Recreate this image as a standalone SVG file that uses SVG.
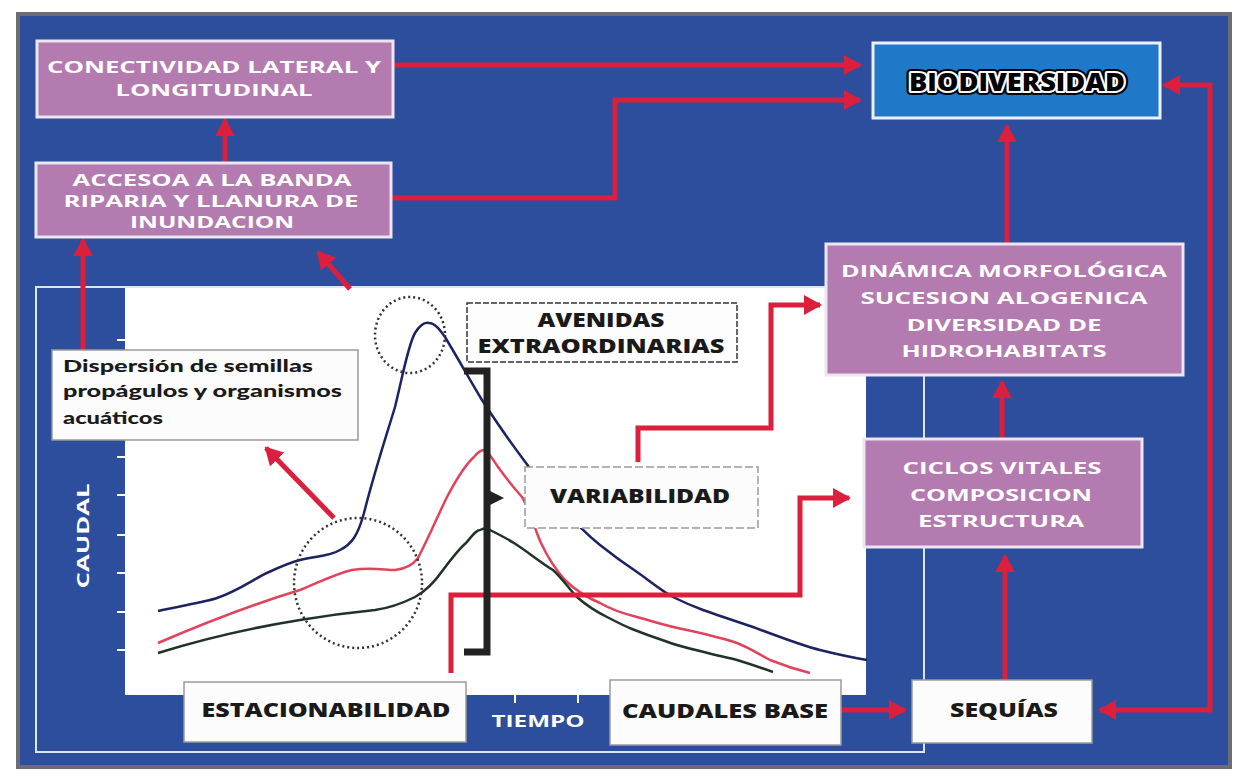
<svg xmlns="http://www.w3.org/2000/svg" width="1240" height="774" viewBox="0 0 1240 774">
<defs>
<marker id="ah" markerUnits="userSpaceOnUse" markerWidth="18" markerHeight="20" refX="16" refY="10" orient="auto-start-reverse">
<path d="M0,0 L18,10 L0,20 z" fill="#dc1f3c"/>
</marker>
</defs>
<style>
.pink{fill:#b47bb0;stroke:#ece6f0;stroke-width:3}
.wbox{fill:#fdfcfc;stroke:#9a9a9a;stroke-width:1.5}
.dbox{fill:#fdfdfd;stroke:#333;stroke-width:1.5;stroke-dasharray:6 2}
.wt{font-family:"Open Sans","DejaVu Sans",sans-serif;font-weight:bold;font-size:16px;fill:#ffffff;text-anchor:middle}
.bt{font-family:"Open Sans","DejaVu Sans",sans-serif;font-weight:800;font-size:20px;fill:#1a1a1a;text-anchor:middle}
.lt{font-family:"Lato","Open Sans",sans-serif;font-weight:900;font-size:17px;fill:#1a1a1a}
.red{fill:none;stroke:#dc1f3c;stroke-width:5}
.curve{fill:none;stroke-width:2.5;stroke-linejoin:round}
.dot{fill:none;stroke:#333;stroke-width:2.5;stroke-dasharray:2 3}
</style>
<rect x="0" y="0" width="1240" height="774" fill="#ffffff"/>
<rect x="18" y="14" width="1212" height="753" fill="#2c4e9c" stroke="#6c6c72" stroke-width="4"/>
<rect x="36" y="287" width="888" height="465" fill="none" stroke="#dde4f4" stroke-width="2"/>
<g id="chart">
<rect x="125" y="288" width="741" height="407" fill="#ffffff"/>
<g stroke="#ffffff" stroke-width="2">
<line x1="117" y1="340" x2="125" y2="340"/>
<line x1="117" y1="457" x2="125" y2="457"/>
<line x1="117" y1="495" x2="125" y2="495"/>
<line x1="117" y1="535" x2="125" y2="535"/>
<line x1="117" y1="573" x2="125" y2="573"/>
<line x1="117" y1="612" x2="125" y2="612"/>
<line x1="117" y1="650" x2="125" y2="650"/>
<line x1="515" y1="695" x2="515" y2="703"/>
<line x1="578" y1="695" x2="578" y2="703"/>
</g>
<text transform="translate(89,536) rotate(-90)" class="wt" font-size="18" textLength="105" lengthAdjust="spacingAndGlyphs">CAUDAL</text>
<text x="538" y="727" class="wt" font-size="17" textLength="93" lengthAdjust="spacingAndGlyphs">TIEMPO</text>
<path class="curve" stroke="#1c2360" d="M158,611 C185,605 205,602 217,598 C240,590 255,578 269,572 C282,566 292,562 300,560 C318,556 330,556 340,550 C352,544 358,535 364,513 C375,470 385,440 395,407 C403,375 408,345 415,333 C420,325 425,322 429,323 C435,323 440,330 445,337 C460,362 470,380 482,400 C495,420 510,442 526,463 C545,490 575,525 600,545 C615,557 625,564 637,572 C650,581 660,590 673,597 C685,603 695,607 703,610 C720,616 735,621 753,627 C775,635 800,645 820,650 C840,655 855,658 867,660"/>
<path class="curve" stroke="#e2435c" d="M158,643 C200,625 250,605 300,590 C320,582 335,574 352,570 C370,567 385,570 395,570 C405,569 412,566 418,558 C430,535 438,515 447,497 C457,478 465,465 474,457 C478,452 481,450 484,450 C489,452 493,460 498,467 C506,478 514,488 522,497 C530,510 535,530 541,543 C548,558 556,570 565,580 C577,592 588,598 600,603 C612,610 625,614 637,617 C655,622 670,627 687,630 C705,634 722,638 737,643 C750,648 760,655 770,660 C785,666 798,670 810,673"/>
<path class="curve" stroke="#1f3327" d="M158,653 C200,640 250,628 300,620 C330,615 355,612 375,610 C390,608 405,602 415,597 C428,590 436,580 443,570 C452,558 460,548 466,543 C472,536 476,530 480,530 C484,528 488,528 490,530 C498,534 506,538 514,543 C528,552 540,562 553,570 C562,578 570,590 577,597 C587,606 597,612 607,617 C615,621 622,625 632,629 C642,633 653,637 665,641 C675,645 687,648 700,651 C715,655 725,657 737,660 C750,664 762,668 773,672"/>
<ellipse class="dot" cx="410" cy="335" rx="35" ry="38"/>
<ellipse class="dot" cx="358" cy="583" rx="64" ry="65"/>
</g>
<g id="connectors">
<path class="red" d="M393,65 H860" marker-end="url(#ah)"/>
<path class="red" d="M391,198 H615 V100 H860" marker-end="url(#ah)"/>
<path class="red" d="M225,162 V120" marker-end="url(#ah)"/>
<path class="red" d="M83,350 V240" marker-end="url(#ah)"/>
<path class="red" d="M350,289 L318,252" marker-end="url(#ah)"/>
<path class="red" d="M334,518 L266,448" marker-end="url(#ah)"/>
<path class="red" d="M638,462 V428 H771 V305 H820" marker-end="url(#ah)"/>
<path class="red" d="M451,673 V595 H800 V498 H849" marker-end="url(#ah)"/>
<path class="red" d="M841,710 H905" marker-end="url(#ah)"/>
<path class="red" d="M1005,680 V556" marker-end="url(#ah)"/>
<path class="red" d="M1002,438 V382" marker-end="url(#ah)"/>
<path class="red" d="M1007,243 V126" marker-end="url(#ah)"/>
<path class="red" d="M1100,710 H1210 V85 H1164" marker-start="url(#ah)" marker-end="url(#ah)"/>
</g>
<g id="bracket">
<path d="M464,371 H487 V652 H464" fill="none" stroke="#222" stroke-width="7"/>
<path d="M490,491 L504,498 L490,505 z" fill="#222"/>
</g>
<g id="conectividad">
<rect class="pink" x="37" y="41" width="356" height="76"/>
<text class="wt" x="214" y="73" textLength="334" lengthAdjust="spacingAndGlyphs">CONECTIVIDAD LATERAL Y</text>
<text class="wt" x="214" y="96" textLength="197" lengthAdjust="spacingAndGlyphs">LONGITUDINAL</text>
</g>
<g id="accesoa">
<rect class="pink" x="36" y="163" width="355" height="74"/>
<text class="wt" x="212" y="186" textLength="279" lengthAdjust="spacingAndGlyphs">ACCESOA A LA BANDA</text>
<text class="wt" x="211" y="207" textLength="295" lengthAdjust="spacingAndGlyphs">RIPARIA Y LLANURA DE</text>
<text class="wt" x="212" y="228" textLength="164" lengthAdjust="spacingAndGlyphs">INUNDACION</text>
</g>
<g id="biodiversidad">
<rect x="873" y="43" width="287" height="75" fill="#1f78c8" stroke="#eef0f8" stroke-width="3"/>
<text x="1017" y="91" text-anchor="middle" font-family="Open Sans, DejaVu Sans, sans-serif" font-weight="800" font-size="24" textLength="216" lengthAdjust="spacingAndGlyphs" fill="#000" stroke="#000" stroke-width="8" stroke-linejoin="round">BIODIVERSIDAD</text>
<text x="1017" y="91" text-anchor="middle" font-family="Open Sans, DejaVu Sans, sans-serif" font-weight="800" font-size="24" textLength="216" lengthAdjust="spacingAndGlyphs" fill="#000" stroke="#fff" stroke-width="4" stroke-linejoin="round" paint-order="stroke">BIODIVERSIDAD</text>
</g>
<g id="dinamica">
<rect class="pink" x="826" y="244" width="357" height="131"/>
<text class="wt" font-size="18" x="1004" y="277" textLength="326" lengthAdjust="spacingAndGlyphs">DINÁMICA MORFOLÓGICA</text>
<text class="wt" font-size="18" x="1004" y="304" textLength="287" lengthAdjust="spacingAndGlyphs">SUCESION ALOGENICA</text>
<text class="wt" font-size="18" x="1004" y="331" textLength="195" lengthAdjust="spacingAndGlyphs">DIVERSIDAD DE</text>
<text class="wt" font-size="18" x="1004" y="357" textLength="205" lengthAdjust="spacingAndGlyphs">HIDROHABITATS</text>
</g>
<g id="ciclos">
<rect class="pink" x="864" y="439" width="278" height="108"/>
<text class="wt" font-size="18" x="1002" y="474" textLength="199" lengthAdjust="spacingAndGlyphs">CICLOS VITALES</text>
<text class="wt" font-size="18" x="1001" y="501" textLength="182" lengthAdjust="spacingAndGlyphs">COMPOSICION</text>
<text class="wt" font-size="18" x="1001" y="527" textLength="166" lengthAdjust="spacingAndGlyphs">ESTRUCTURA</text>
</g>
<g id="sequias">
<rect class="wbox" x="912" y="680" width="180" height="63"/>
<text class="bt" x="1004" y="717" textLength="108" lengthAdjust="spacingAndGlyphs">SEQUÍAS</text>
</g>
<g id="caudales-base">
<rect class="wbox" x="610" y="680" width="231" height="65"/>
<text class="bt" x="725" y="718" textLength="206" lengthAdjust="spacingAndGlyphs">CAUDALES BASE</text>
</g>
<g id="estacionabilidad">
<rect class="wbox" x="184" y="682" width="282" height="60"/>
<text class="bt" x="326" y="717" textLength="249" lengthAdjust="spacingAndGlyphs">ESTACIONABILIDAD</text>
</g>
<g id="variabilidad">
<rect class="wbox" x="525" y="467" width="233" height="61" stroke-dasharray="8 3"/>
<text class="bt" x="640" y="503" textLength="180" lengthAdjust="spacingAndGlyphs">VARIABILIDAD</text>
</g>
<g id="avenidas">
<rect class="dbox" x="467" y="303" width="270" height="59"/>
<text class="bt" x="601" y="327" textLength="127" lengthAdjust="spacingAndGlyphs">AVENIDAS</text>
<text class="bt" x="601" y="353" textLength="247" lengthAdjust="spacingAndGlyphs">EXTRAORDINARIAS</text>
</g>
<g id="dispersion">
<rect class="wbox" x="52" y="350" width="306" height="90"/>
<text class="lt" x="63" y="372" textLength="250" lengthAdjust="spacingAndGlyphs">Dispersión de semillas</text>
<text class="lt" x="63" y="397" textLength="279" lengthAdjust="spacingAndGlyphs">propágulos y organismos</text>
<text class="lt" x="63" y="424" textLength="100" lengthAdjust="spacingAndGlyphs">acuáticos</text>
</g>
</svg>
